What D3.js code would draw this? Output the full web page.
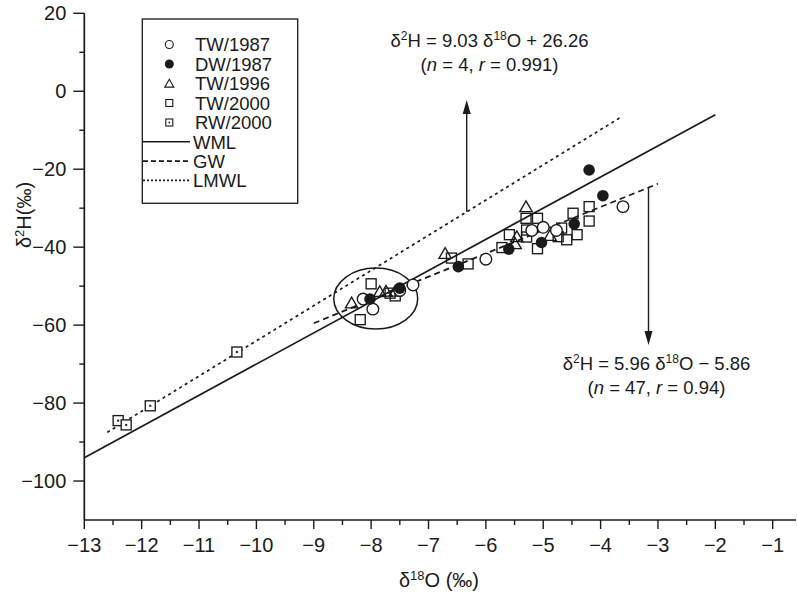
<!DOCTYPE html>
<html>
<head>
<meta charset="utf-8">
<script src="https://cdn.jsdelivr.net/npm/d3@7"></script>
<style>
  html, body { margin: 0; padding: 0; background: #fff; }
  svg { display: block; }
  text { font-family: "Liberation Sans", Arial, Helvetica, sans-serif; fill: #1a1a1a; }
</style>
</head>
<body>
<svg id="chart" width="797" height="598"></svg>
<script>
// δ18O (x) and δ2H (y) values, ‰, per sample group
const tw1987 = [
  [-8.14, -53.3], [-7.97, -55.9], [-7.50, -51.1], [-7.27, -49.7],
  [-6.00, -43.1], [-5.20, -35.7], [-5.00, -34.9], [-4.77, -35.7], [-3.61, -29.6]
];
const dw1987 = [
  [-8.02, -53.3], [-7.50, -50.5], [-6.48, -45.0], [-5.60, -40.5],
  [-5.03, -38.8], [-4.46, -34.0], [-3.96, -26.8], [-4.20, -20.2]
];
const tw1996 = [
  [-8.34, -54.4], [-7.85, -51.5], [-7.74, -51.4], [-7.58, -51.4],
  [-6.71, -41.7], [-5.46, -37.4], [-5.49, -39.2], [-4.88, -37.1], [-5.30, -29.7]
];
const tw2000 = [
  [-8.00, -49.4], [-8.19, -58.6], [-7.67, -51.8], [-7.58, -52.5],
  [-6.60, -42.8], [-6.31, -44.3], [-5.72, -40.1], [-5.59, -36.8], [-5.29, -37.4],
  [-5.29, -35.6], [-5.30, -32.6], [-5.10, -32.6], [-5.10, -40.4], [-4.74, -37.3],
  [-4.68, -35.1], [-4.59, -38.1], [-4.41, -36.8], [-4.48, -31.3], [-4.20, -29.6],
  [-4.20, -33.3]
];
const rw2000 = [[-12.41, -84.5], [-12.27, -85.6], [-11.85, -80.7], [-10.34, -66.9]];

// Reference lines: slope, intercept, x-extent
const wml  = { slope: 8.00, intercept: 10.00, from: -13.0, to: -2.0 };
const gw   = { slope: 5.96, intercept: -5.86, from: -9.0,  to: -3.0 };
const lmwl = { slope: 9.03, intercept: 26.26, from: -12.6, to: -3.65 };

const xTicks = d3.range(-13, 0, 1);
const xMinor = d3.range(-12.5, -0.9, 1);
const yTicks = [20, 0, -20, -40, -60, -80, -100];
const yMinor = [10, -10, -30, -50, -70, -90];

const legendItems = ["TW/1987", "DW/1987", "TW/1996", "TW/2000", "RW/2000", "WML", "GW", "LMWL"];

const svg = d3.select("#chart");
const ink = "#1a1a1a";
const fs = 20;

const x = d3.scaleLinear().domain([-13, -1]).range([84.3, 772.7]);
const y = d3.scaleLinear().domain([-110, 20]).range([520, 13.3]);

const minus = s => String(s).replace("-", "\u2212");

// ---- axes ----
const xAxis = svg.append("g").attr("transform", `translate(0,${y(-110)})`);
xAxis.append("line").attr("x1", x(-13)).attr("x2", 796).attr("stroke", ink).attr("stroke-width", 1.7);
xAxis.selectAll("line.maj").data(xTicks).join("line").attr("class", "maj")
  .attr("x1", d => x(d)).attr("x2", d => x(d)).attr("y1", 0).attr("y2", 9)
  .attr("stroke", ink).attr("stroke-width", 1.4);
xAxis.selectAll("line.min").data(xMinor).join("line").attr("class", "min")
  .attr("x1", d => x(d)).attr("x2", d => x(d)).attr("y1", 0).attr("y2", 5)
  .attr("stroke", ink).attr("stroke-width", 1.4);
xAxis.selectAll("text").data(xTicks).join("text")
  .attr("x", d => x(d)).attr("y", 32).attr("text-anchor", "middle")
  .attr("font-size", fs).text(d => minus(d));

const yAxis = svg.append("g").attr("transform", `translate(${x(-13)},0)`);
yAxis.append("line").attr("y1", y(20)).attr("y2", y(-110)).attr("stroke", ink).attr("stroke-width", 1.7);
yAxis.selectAll("line.maj").data(yTicks).join("line").attr("class", "maj")
  .attr("y1", d => y(d)).attr("y2", d => y(d)).attr("x1", 0).attr("x2", -11)
  .attr("stroke", ink).attr("stroke-width", 1.4);
yAxis.selectAll("line.min").data(yMinor).join("line").attr("class", "min")
  .attr("y1", d => y(d)).attr("y2", d => y(d)).attr("x1", 0).attr("x2", -5)
  .attr("stroke", ink).attr("stroke-width", 1.4);
yAxis.selectAll("text").data(yTicks).join("text")
  .attr("x", -18).attr("y", d => y(d) + 7).attr("text-anchor", "end")
  .attr("font-size", fs).text(d => minus(d));

// axis titles
const xt = svg.append("text").attr("x", 439).attr("y", 587).attr("text-anchor", "middle").attr("font-size", fs);
xt.append("tspan").text("δ");
xt.append("tspan").attr("font-size", 13).attr("dy", -7).text("18");
xt.append("tspan").attr("dy", 7).text("O (‰)");

const yt = svg.append("text").attr("transform", "translate(31,215) rotate(-90)")
  .attr("text-anchor", "middle").attr("font-size", fs);
yt.append("tspan").text("δ");
yt.append("tspan").attr("font-size", 13).attr("dy", -7).text("2");
yt.append("tspan").attr("dy", 7).text("H(‰)");

// ---- reference lines ----
function refLine(l, dash) {
  svg.append("line")
    .attr("x1", x(l.from)).attr("y1", y(l.slope * l.from + l.intercept))
    .attr("x2", x(l.to)).attr("y2", y(l.slope * l.to + l.intercept))
    .attr("stroke", ink).attr("stroke-width", 1.7)
    .attr("stroke-dasharray", dash);
}
refLine(wml, null);
refLine(gw, "6,4");
refLine(lmwl, "3,3.5");

// cluster ellipse
svg.append("ellipse").attr("cx", x(-7.92)).attr("cy", y(-53.2)).attr("rx", 42).attr("ry", 30.5)
  .attr("fill", "none").attr("stroke", ink).attr("stroke-width", 1.5);

// ---- markers ----
const sw = 1.35;
const tri = d3.symbol().type(d3.symbolTriangle).size(66)();
function drawOpenCircles(data, r) {
  svg.append("g").selectAll("circle").data(data).join("circle")
    .attr("cx", d => x(d[0])).attr("cy", d => y(d[1])).attr("r", r)
    .attr("fill", "#fff").attr("stroke", ink).attr("stroke-width", sw);
}
function drawTriangles(data) {
  svg.append("g").selectAll("path").data(data).join("path")
    .attr("d", tri).attr("transform", d => `translate(${x(d[0])},${y(d[1]) + 1})`)
    .attr("fill", "none").attr("stroke", ink).attr("stroke-width", sw);
}
function drawSquares(data, s, dot) {
  const g = svg.append("g").selectAll("g").data(data).join("g")
    .attr("transform", d => `translate(${x(d[0])},${y(d[1])})`);
  g.append("rect").attr("x", -s / 2).attr("y", -s / 2).attr("width", s).attr("height", s)
    .attr("fill", dot ? "#fff" : "none").attr("stroke", ink).attr("stroke-width", sw);
  if (dot) g.append("rect").attr("x", -1).attr("y", -1).attr("width", 2).attr("height", 2).attr("fill", ink);
}
drawSquares(tw2000, 10, false);
drawTriangles(tw1996);
drawOpenCircles(tw1987, 5.8);
svg.append("g").selectAll("circle").data(dw1987).join("circle")
  .attr("cx", d => x(d[0])).attr("cy", d => y(d[1])).attr("r", 5.8).attr("fill", ink);
drawSquares(rw2000, 10, true);

// ---- annotation arrows and equations ----
function arrow(xp, yFrom, yTip) {
  const dir = yTip < yFrom ? 1 : -1;
  svg.append("line").attr("x1", xp).attr("x2", xp).attr("y1", yFrom).attr("y2", yTip + dir * 12)
    .attr("stroke", ink).attr("stroke-width", 1.4);
  svg.append("path")
    .attr("d", `M${xp},${yTip} L${xp - 4},${yTip + dir * 14} L${xp + 4},${yTip + dir * 14} Z`)
    .attr("fill", ink);
}
const upX = 466.7, downX = 648.5;
arrow(upX, y(lmwl.slope * x.invert(upX) + lmwl.intercept), 100);
arrow(downX, y(gw.slope * x.invert(downX) + gw.intercept), 345);

function equation(cx, by, slope, sign, icpt, n, r) {
  const t = svg.append("text").attr("x", cx).attr("y", by).attr("text-anchor", "middle").attr("font-size", 18.5);
  t.append("tspan").text("δ");
  t.append("tspan").attr("font-size", 12).attr("dy", -7).text("2");
  t.append("tspan").attr("dy", 7).text(`H = ${slope} δ`);
  t.append("tspan").attr("font-size", 12).attr("dy", -7).text("18");
  t.append("tspan").attr("dy", 7).text(`O ${sign} ${icpt}`);
  const t2 = svg.append("text").attr("x", cx).attr("y", by + 24).attr("text-anchor", "middle").attr("font-size", 18.5);
  t2.append("tspan").text("(");
  t2.append("tspan").attr("font-style", "italic").text("n");
  t2.append("tspan").text(` = ${n}, `);
  t2.append("tspan").attr("font-style", "italic").text("r");
  t2.append("tspan").text(` = ${r})`);
}
equation(489.5, 47, "9.03", "+", "26.26", 4, "0.991");
equation(656.5, 370, "5.96", "\u2212", "5.86", 47, "0.94");

// ---- legend ----
const lg = svg.append("g");
lg.append("rect").attr("x", 142.3).attr("y", 19).attr("width", 155.4).attr("height", 184.3)
  .attr("fill", "#fff").attr("stroke", ink).attr("stroke-width", 1.3);
const rowY = [44.5, 64, 83.5, 103, 122.5, 141.8, 161.1, 180.4];
const mx = 169.3;
lg.append("circle").attr("cx", mx).attr("cy", rowY[0]).attr("r", 4).attr("fill", "none").attr("stroke", ink).attr("stroke-width", 1.1);
lg.append("circle").attr("cx", mx).attr("cy", rowY[1]).attr("r", 4.5).attr("fill", ink);
lg.append("path").attr("d", d3.symbol().type(d3.symbolTriangle).size(36)())
  .attr("transform", `translate(${mx},${rowY[2] + 1})`).attr("fill", "none").attr("stroke", ink).attr("stroke-width", 1.1);
lg.append("rect").attr("x", mx - 3.5).attr("y", rowY[3] - 3.5).attr("width", 7).attr("height", 7)
  .attr("fill", "none").attr("stroke", ink).attr("stroke-width", 1.1);
lg.append("rect").attr("x", mx - 3.5).attr("y", rowY[4] - 3.5).attr("width", 7).attr("height", 7)
  .attr("fill", "none").attr("stroke", ink).attr("stroke-width", 1.1);
lg.append("rect").attr("x", mx - 0.8).attr("y", rowY[4] - 0.8).attr("width", 1.6).attr("height", 1.6).attr("fill", ink);
[null, "5,3", "2,2"].forEach((dash, i) => {
  lg.append("line").attr("x1", 143).attr("x2", 190).attr("y1", rowY[5 + i]).attr("y2", rowY[5 + i])
    .attr("stroke", ink).attr("stroke-width", 1.6).attr("stroke-dasharray", dash);
});
lg.selectAll("text").data(legendItems).join("text")
  .attr("x", (d, i) => i < 5 ? 195 : 193).attr("y", (d, i) => rowY[i] + 6.8)
  .attr("font-size", 18.5).text(d => d);
</script>
</body>
</html>
